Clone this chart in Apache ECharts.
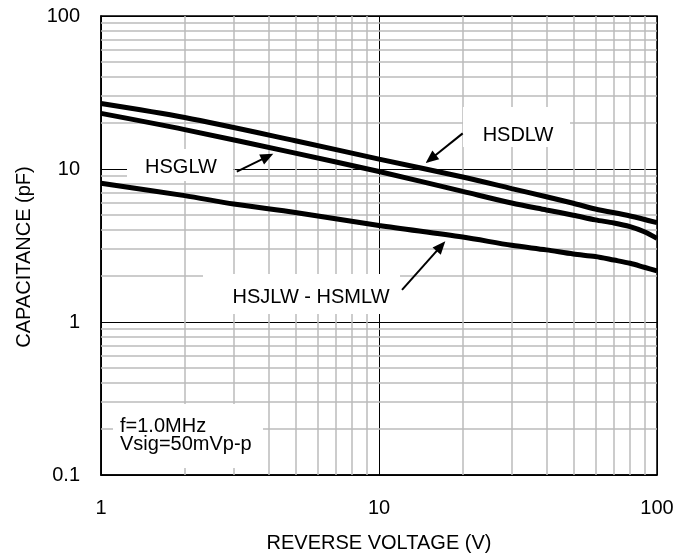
<!DOCTYPE html>
<html>
<head>
<meta charset="utf-8">
<script src="https://cdn.jsdelivr.net/npm/echarts@6/dist/echarts.min.js"></script>
<style>
  html, body { margin: 0; padding: 0; background: #fff; }
  #chart { width: 694px; height: 558px; }
</style>
</head>
<body>
<div id="chart"></div>
<script>
// Capacitance vs reverse voltage (log-log), f = 1.0 MHz
const hsdlwVoltage = [1, 2, 5, 10, 20, 30, 40, 50, 60, 80, 100];
const hsdlwCap     = [26.8, 21.7, 15.3, 11.6, 8.87, 7.45, 6.59, 5.97, 5.48, 4.93, 4.46];

const hsglwVoltage = [1, 2, 5, 10, 20, 30, 40, 50, 60, 70, 80, 90, 100];
const hsglwCap     = [23.1, 18.1, 12.7, 9.63, 7.14, 5.99, 5.4, 4.99, 4.65, 4.44, 4.2, 3.89, 3.52];

const hsjlwVoltage = [1, 2, 3, 5, 10, 20, 30, 40, 50, 60, 70, 80, 90, 100];
const hsjlwCap     = [8.07, 6.7, 5.9, 5.2, 4.27, 3.59, 3.17, 2.96, 2.78, 2.68, 2.54, 2.42, 2.28, 2.16];

// Axis ranges and minor grid values (decade subdivisions)
const xRange = [1, 100];
const yRange = [0.1, 100];
const xMinorGrid = [2, 3, 4, 5, 6, 7, 8, 9, 20, 30, 40, 50, 60, 70, 80, 90];
const yMinorGrid = [0.2, 0.3, 0.4, 0.5, 0.6, 0.7, 0.8, 0.9, 2, 3, 4, 5, 6, 7, 8, 9, 20, 30, 40, 50, 60, 70, 80, 90];

// Callout arrows: [tail, head] in data coordinates
const arrowHsglw = [[3.08, 9.6], [3.97, 12.05]];
const arrowHsdlw = [[20.0, 17.1], [15.35, 11.64]];
const arrowHsjlw = [[12.1, 1.62], [16.71, 3.13]];

const FONT = 'Liberation Sans, Arial, sans-serif';

function pairs(xs, ys) { return xs.map((x, i) => [x, ys[i]]); }

const minorLines = []
  .concat(xMinorGrid.map(v => ({ xAxis: v })))
  .concat(yMinorGrid.map(v => ({ yAxis: v })));

function curve(name, xs, ys) {
  return {
    name: name,
    type: 'line',
    data: pairs(xs, ys),
    showSymbol: false,
    smooth: 0.3,
    z: 5,
    lineStyle: { color: '#000', width: 5 }
  };
}

function arrow(pts) {
  return [{ coord: pts[0], symbol: 'none' }, { coord: pts[1], symbol: 'triangle', symbolSize: [11, 13] }];
}

const chart = echarts.init(document.getElementById('chart'), null, { renderer: 'canvas' });

chart.setOption({
  animation: false,
  backgroundColor: '#fff',
  grid: {
    left: 101, top: 16, width: 556, height: 459,
    show: true, borderColor: '#000', borderWidth: 1.5, backgroundColor: 'transparent'
  },
  xAxis: {
    type: 'log', logBase: 10, min: xRange[0], max: xRange[1],
    name: 'REVERSE VOLTAGE (V)', nameLocation: 'middle', nameGap: 58,
    nameTextStyle: { fontFamily: FONT, fontSize: 20, color: '#000' },
    axisLine: { lineStyle: { color: '#000', width: 1.5 } },
    axisTick: { show: false },
    axisLabel: { fontFamily: FONT, fontSize: 20, color: '#000', margin: 23,
      formatter: v => String(Number(v.toPrecision(3))) },
    splitLine: { show: true, lineStyle: { color: '#000', width: 1 } }
  },
  yAxis: {
    type: 'log', logBase: 10, min: yRange[0], max: yRange[1],
    axisLine: { lineStyle: { color: '#000', width: 1.5 } },
    axisTick: { show: false },
    axisLabel: { fontFamily: FONT, fontSize: 20, color: '#000', margin: 21,
      formatter: v => String(Number(v.toPrecision(3))) },
    splitLine: { show: true, lineStyle: { color: '#000', width: 1 } }
  },
  graphic: [
    {
      type: 'text', x: 24, y: 257, rotation: Math.PI / 2,
      style: { text: 'CAPACITANCE (pF)', font: '20px ' + FONT, fill: '#000', align: 'center', verticalAlign: 'middle' }
    },
    { type: 'rect', z: 2, shape: { x: 127, y: 149, width: 106, height: 32 }, style: { fill: '#fff' } },
    { type: 'text', z: 3, x: 181, y: 167,
      style: { text: 'HSGLW', font: '20px ' + FONT, fill: '#000', align: 'center', verticalAlign: 'middle' } },
    { type: 'rect', z: 2, shape: { x: 463, y: 107, width: 107, height: 40 }, style: { fill: '#fff' } },
    { type: 'text', z: 3, x: 518, y: 135,
      style: { text: 'HSDLW', font: '20px ' + FONT, fill: '#000', align: 'center', verticalAlign: 'middle' } },
    { type: 'rect', z: 2, shape: { x: 203, y: 274, width: 197, height: 40 }, style: { fill: '#fff' } },
    { type: 'text', z: 3, x: 311, y: 297,
      style: { text: 'HSJLW - HSMLW', font: '20px ' + FONT, fill: '#000', align: 'center', verticalAlign: 'middle' } },
    { type: 'rect', z: 2, shape: { x: 113, y: 404, width: 150, height: 64 }, style: { fill: '#fff' } },
    { type: 'text', z: 3, x: 120, y: 426,
      style: { text: 'f=1.0MHz', font: '20px ' + FONT, fill: '#000', align: 'left', verticalAlign: 'middle' } },
    { type: 'text', z: 3, x: 120, y: 444,
      style: { text: 'Vsig=50mVp-p', font: '20px ' + FONT, fill: '#000', align: 'left', verticalAlign: 'middle' } }
  ],
  series: [
    {
      name: 'grid',
      type: 'line',
      data: [],
      z: 1,
      silent: true,
      markLine: {
        z: 1,
        silent: true,
        symbol: 'none',
        label: { show: false },
        lineStyle: { color: '#bbbbbb', width: 1.5, type: 'solid' },
        data: minorLines
      }
    },
    curve('HSDLW', hsdlwVoltage, hsdlwCap),
    curve('HSGLW', hsglwVoltage, hsglwCap),
    curve('HSJLW - HSMLW', hsjlwVoltage, hsjlwCap),
    {
      name: 'callouts',
      type: 'line',
      data: [],
      z: 7,
      silent: true,
      markLine: {
        z: 7,
        silent: true,
        label: { show: false },
        lineStyle: { color: '#000', width: 2, type: 'solid' },
        itemStyle: { color: '#000' },
        data: [arrow(arrowHsglw), arrow(arrowHsdlw), arrow(arrowHsjlw)]
      }
    }
  ]
});
</script>
</body>
</html>
